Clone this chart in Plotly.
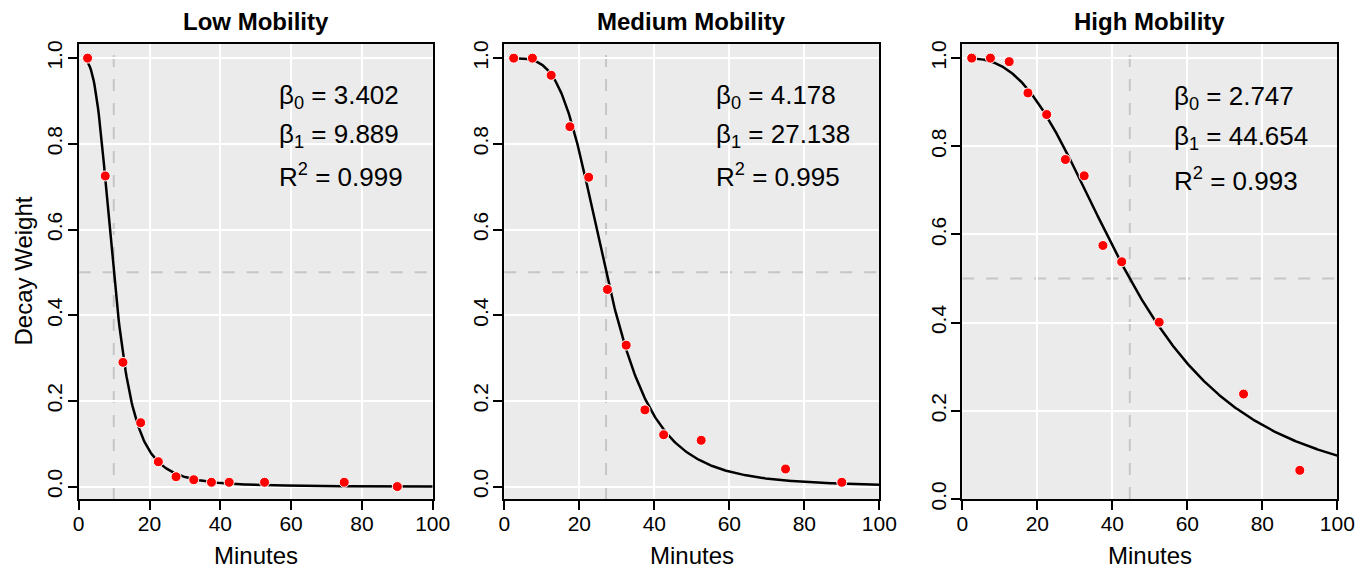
import numpy as np
import plotly.graph_objects as go

# ---------------- data ----------------
titles = ["Low Mobility", "Medium Mobility", "High Mobility"]
minutes = [2.5, 7.5, 12.5, 17.5, 22.5, 27.5, 32.5, 37.5, 42.5, 52.5, 75, 90]
low_weight = [1.0, 0.725, 0.290, 0.149, 0.058, 0.023, 0.016, 0.010, 0.010, 0.010, 0.010, 0.0]
medium_weight = [1.0, 1.0, 0.960, 0.840, 0.722, 0.460, 0.330, 0.179, 0.121, 0.108, 0.041, 0.010]
high_weight = [1.0, 1.0, 0.992, 0.921, 0.872, 0.770, 0.733, 0.575, 0.538, 0.401, 0.238, 0.065]
beta0 = [3.402, 4.178, 2.747]
beta1 = [9.889, 27.138, 44.654]
r2 = [0.999, 0.995, 0.993]
x_ticks = [0, 20, 40, 60, 80, 100]
y_ticks = [0.0, 0.2, 0.4, 0.6, 0.8, 1.0]
y_tick_text = ["0.0", "0.2", "0.4", "0.6", "0.8", "1.0"]

weights = [low_weight, medium_weight, high_weight]

# ---------------- layout geometry ----------------
# the page adds an 8px body margin, so the figure is drawn 8px smaller and
# every position below is given in window pixels and shifted by that offset
OFF = 8
W, H = 1371 - OFF, 574 - OFF


def px(xw):
    return (xw - OFF) / W


def py(yw):
    return 1 - (yw - OFF) / H


x_domains = [(78.7, 432.7), (504.3, 879.3), (962.3, 1337.3)]
y_top, y_bot = 44, 499
y_ranges = [[-0.029, 1.033], [-0.029, 1.033], [0.0, 1.032]]

FONT = "Liberation Sans, Arial, Helvetica, sans-serif"
BG = "#EBEBEB"
DASH = "#C6C6C6"

fig = go.Figure()
layout = dict(
    width=W, height=H,
    margin=dict(l=0, r=0, t=0, b=0),
    paper_bgcolor="white",
    plot_bgcolor=BG,
    showlegend=False,
    font=dict(family=FONT, color="black"),
)
annotations = []
shapes = []

for i in range(3):
    xa = "x" if i == 0 else f"x{i+1}"
    ya = "y" if i == 0 else f"y{i+1}"
    xkey = "xaxis" if i == 0 else f"xaxis{i+1}"
    ykey = "yaxis" if i == 0 else f"yaxis{i+1}"
    d0, d1 = x_domains[i]
    layout[xkey] = dict(
        domain=[px(d0), px(d1)], anchor=ya, range=[0, 100],
        tickvals=x_ticks, ticks="outside", ticklen=9, tickwidth=1.5, tickcolor="black",
        showline=True, mirror=True, linecolor="black", linewidth=2,
        showgrid=True, gridcolor="white", gridwidth=1.5, zeroline=False,
        tickfont=dict(size=21, family=FONT, color="black"), automargin=False,
        ticklabelstandoff=-4, fixedrange=True,
    )
    layout[ykey] = dict(
        domain=[py(y_bot), py(y_top)], anchor=xa, range=y_ranges[i],
        tickvals=y_ticks, ticktext=y_tick_text, tickangle=-90,
        ticks="outside", ticklen=9, tickwidth=1.5, tickcolor="black",
        showline=True, mirror=True, linecolor="black", linewidth=2,
        showgrid=True, gridcolor="white", gridwidth=1.5, zeroline=False,
        tickfont=dict(size=21, family=FONT, color="black"), automargin=False,
        ticklabelstandoff=-3, fixedrange=True,
    )

    # fitted decay curve from the displayed parameters
    xc = np.linspace(2.5, 100, 400)
    yc = 1.0 / (1.0 + (xc / beta1[i]) ** beta0[i])
    fig.add_trace(go.Scatter(x=xc, y=yc, mode="lines", xaxis=xa, yaxis=ya,
                             line=dict(color="black", width=2.5), hoverinfo="skip"))
    fig.add_trace(go.Scatter(x=minutes, y=weights[i], mode="markers", xaxis=xa, yaxis=ya,
                             marker=dict(color="#FF0000", size=10,
                                         line=dict(color="white", width=1))))

    # dashed reference lines (at beta1 and at half weight)
    yr = y_ranges[i]
    shapes.append(dict(type="line", xref=xa, yref=ya, x0=beta1[i], x1=beta1[i],
                       y0=yr[0], y1=yr[1], layer="below",
                       line=dict(color=DASH, width=2, dash="12px,12px")))
    shapes.append(dict(type="line", xref=xa, yref=ya, x0=0, x1=100,
                       y0=0.5, y1=0.5, layer="below",
                       line=dict(color=DASH, width=2, dash="12px,12px")))

    # panel title
    cxw = (d0 + d1) / 2
    annotations.append(dict(text=f"<b>{titles[i]}</b>", xref="paper", yref="paper",
                            x=px(cxw), y=py(21), xanchor="center", yanchor="middle",
                            showarrow=False, font=dict(size=24, family=FONT, color="black")))
    # x axis title
    annotations.append(dict(text="Minutes", xref="paper", yref="paper",
                            x=px(cxw), y=py(555), xanchor="center", yanchor="middle",
                            showarrow=False, font=dict(size=24, family=FONT, color="black")))
    # parameter text
    lines = [f"β<sub>0</sub> = {beta0[i]:.3f}",
             f"β<sub>1</sub> = {beta1[i]:.3f}",
             f"R<sup>2</sup> = {r2[i]:.3f}"]
    for txt, yy in zip(lines, [0.91, 0.82, 0.725]):
        annotations.append(dict(text=txt, xref=xa, yref=ya, x=56, y=yy,
                                xanchor="left", yanchor="middle", showarrow=False,
                                font=dict(size=26, family=FONT, color="black")))

annotations.append(dict(text="Decay Weight", xref="paper", yref="paper",
                        x=px(23), y=py((y_top + y_bot) / 2), xanchor="center",
                        yanchor="middle", textangle=-90, showarrow=False,
                        font=dict(size=24, family=FONT, color="black")))

layout["annotations"] = annotations
layout["shapes"] = shapes
fig.update_layout(**layout)
fig.write_html("out.html")
